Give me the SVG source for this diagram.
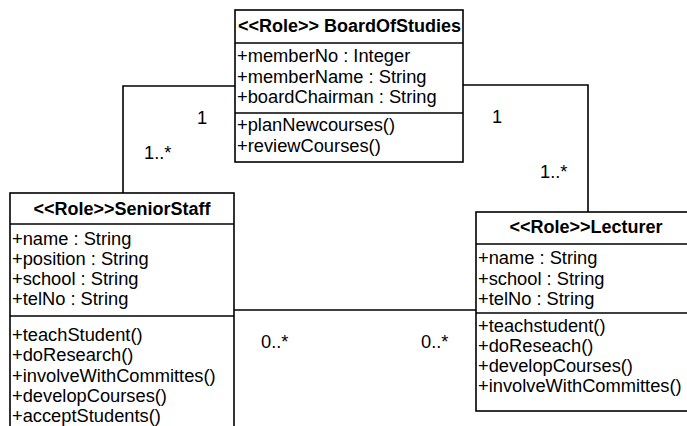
<svg xmlns="http://www.w3.org/2000/svg" width="687" height="426" viewBox="0 0 687 426">
<style>
.box{fill:#fff;stroke:#000;stroke-width:1.6}
.sep{stroke:#000;stroke-width:1.6}
.conn{fill:none;stroke:#000;stroke-width:1.6}
text{font-family:"Liberation Sans",Arial,sans-serif;font-size:18.3px;fill:#000}
.hd{font-weight:bold;font-size:18px}
.mid{text-anchor:middle}
</style>
<rect width="687" height="426" fill="#fff"/>
<g id="connectors">
<polyline class="conn" points="235,86 123,86 123,193"/>
<polyline class="conn" points="463,85 588,85 588,212"/>
<line class="conn" x1="234" y1="310" x2="476" y2="310"/>
<text x="197" y="124">1</text>
<text x="144" y="159">1..*</text>
<text x="492" y="123">1</text>
<text x="540" y="178">1..*</text>
<text x="261" y="348">0..*</text>
<text x="421" y="348">0..*</text>
</g>
<g id="BoardOfStudies">
<rect class="box" x="235" y="10" width="228" height="152"/>
<line class="sep" x1="235" y1="43" x2="463" y2="43"/>
<line class="sep" x1="235" y1="113" x2="463" y2="113"/>
<text class="hd" x="238" y="32">&lt;&lt;Role&gt;&gt; BoardOfStudies</text>
<text x="237" y="62">+memberNo : Integer</text>
<text x="237" y="83">+memberName : String</text>
<text x="237" y="103">+boardChairman : String</text>
<text x="237" y="131">+planNewcourses()</text>
<text x="237" y="152">+reviewCourses()</text>
</g>
<g id="SeniorStaff">
<rect class="box" x="10" y="193" width="224" height="250"/>
<line class="sep" x1="10" y1="224" x2="234" y2="224"/>
<line class="sep" x1="10" y1="316" x2="234" y2="316"/>
<text class="hd mid" x="122" y="215">&lt;&lt;Role&gt;&gt;SeniorStaff</text>
<text x="12" y="245">+name : String</text>
<text x="12" y="265">+position : String</text>
<text x="12" y="285">+school : String</text>
<text x="12" y="305">+telNo : String</text>
<text x="12" y="341">+teachStudent()</text>
<text x="12" y="361">+doResearch()</text>
<text x="12" y="382">+involveWithCommittes()</text>
<text x="12" y="402">+developCourses()</text>
<text x="12" y="422">+acceptStudents()</text>
</g>
<g id="Lecturer">
<rect class="box" x="476" y="212" width="221" height="199"/>
<line class="sep" x1="476" y1="244" x2="697" y2="244"/>
<line class="sep" x1="476" y1="313" x2="697" y2="313"/>
<text class="hd mid" x="586" y="233">&lt;&lt;Role&gt;&gt;Lecturer</text>
<text x="478" y="264">+name : String</text>
<text x="478" y="285">+school : String</text>
<text x="478" y="305">+telNo : String</text>
<text x="478" y="332">+teachstudent()</text>
<text x="478" y="352">+doReseach()</text>
<text x="478" y="372">+developCourses()</text>
<text x="478" y="392">+involveWithCommittes()</text>
</g>
</svg>
